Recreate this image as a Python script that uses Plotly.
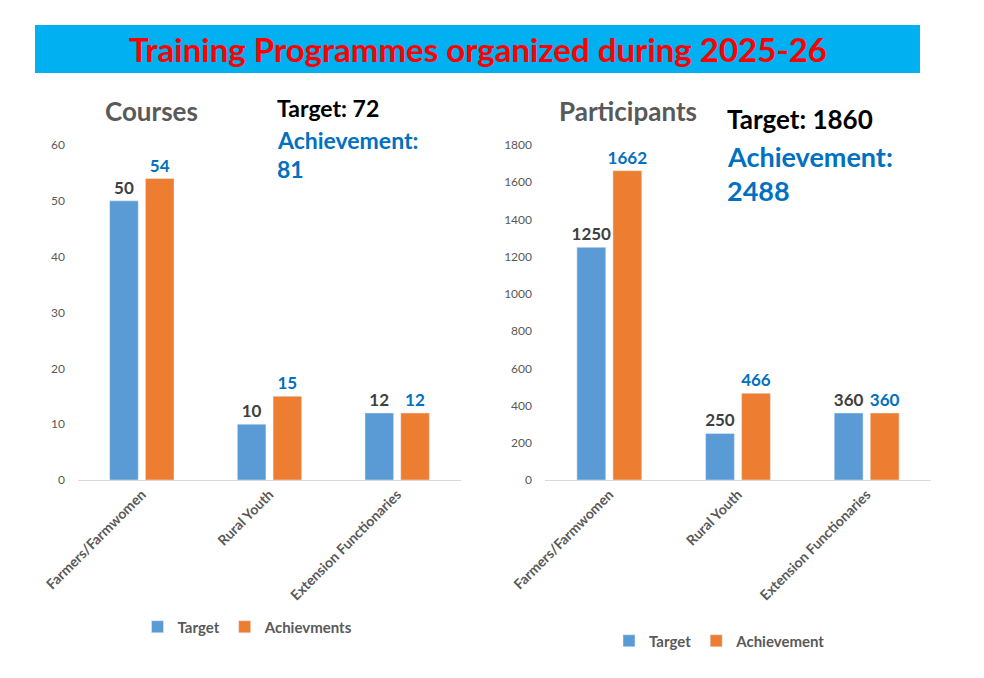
import plotly.graph_objects as go

categories = ['Farmers/Farmwomen', 'Rural Youth', 'Extension Functionaries']
courses_target = [50, 10, 12]
courses_achieved = [54, 15, 12]
participants_target = [1250, 250, 360]
participants_achieved = [1662, 466, 360]

BLUE = '#5B9BD5'
ORANGE = '#ED7D31'
LABEL_BLUE = '#0070C0'
GREY = '#595959'
FONT = 'Lato'

W, H = 984, 678
# the page body has an 8px margin, so the figure starts 8px in
OFF = 8
def px_x(v): return (v - OFF) / W
def px_y(v): return 1 - (v - OFF) / H

fig = go.Figure()

def bars(y, name, color, label_color, xa, ya, leg):
    return go.Bar(x=categories, y=y, name=name, marker_color=color,
                  text=y, textposition='outside', cliponaxis=False, constraintext='none',
                  textfont=dict(size=17, color=label_color, family=FONT, weight='bold'),
                  xaxis=xa, yaxis=ya, legend=leg)

# left chart: courses
fig.add_trace(bars(courses_target, 'Target', BLUE, '#404040', 'x', 'y', 'legend'))
fig.add_trace(bars(courses_achieved, 'Achievments', ORANGE, LABEL_BLUE, 'x', 'y', 'legend'))
# right chart: participants
fig.add_trace(bars(participants_target, 'Target', BLUE, '#404040', 'x2', 'y2', 'legend2'))
fig.add_trace(bars(participants_achieved, 'Achievement', ORANGE, LABEL_BLUE, 'x2', 'y2', 'legend2'))

xcommon = dict(tickangle=-45, showgrid=False, showline=True, linecolor='#D9D9D9', linewidth=1,
               ticks='', automargin=False,
               tickfont=dict(size=14, color=GREY, family=FONT, weight='bold'))
ycommon = dict(showgrid=False, zeroline=False, showline=False, ticks='', automargin=False,
               ticklabelstandoff=12,
               tickfont=dict(size=12, color=GREY, family=FONT))

legend_font = dict(size=15, color=GREY, family=FONT, weight='bold')

fig.update_layout(
    width=W, height=H,
    margin=dict(l=0, r=0, t=0, b=0, autoexpand=False),
    paper_bgcolor='white', plot_bgcolor='white',
    barmode='group', bargap=0.44, bargroupgap=0.2,
    font=dict(family=FONT),
    xaxis=dict(domain=[px_x(78), px_x(461)], anchor='y', **xcommon),
    yaxis=dict(domain=[px_y(480), px_y(145)], range=[0, 60], dtick=10, anchor='x', **ycommon),
    xaxis2=dict(domain=[px_x(545), px_x(931)], anchor='y2', **xcommon),
    yaxis2=dict(domain=[px_y(480), px_y(145)], range=[0, 1800], dtick=200, anchor='x2', **ycommon),
    legend=dict(orientation='h', x=px_x(248), y=px_y(627), xanchor='center', yanchor='middle',
                font=legend_font, itemwidth=30, traceorder='normal'),
    legend2=dict(orientation='h', x=px_x(720), y=px_y(641), xanchor='center', yanchor='middle',
                 font=legend_font, itemwidth=30, traceorder='normal'),
    shapes=[dict(type='rect', xref='paper', yref='paper',
                 x0=px_x(35), x1=px_x(920), y0=px_y(73), y1=px_y(25),
                 fillcolor='#00B0F0', line=dict(width=0), layer='below')],
)

annotations = [
    dict(text='Training Programmes organized during 2025-26', x=px_x(478), y=px_y(49),
         font=dict(size=33, color='#FF0000', family=FONT, weight='bold'), xanchor='center'),
    dict(text='Courses', x=px_x(151), y=px_y(111),
         font=dict(size=26, color=GREY, family=FONT, weight='bold'), xanchor='center'),
    dict(text='Target: %d' % sum(courses_target), x=px_x(275), y=px_y(108),
         font=dict(size=23, color='black', family=FONT, weight='bold'), xanchor='left'),
    dict(text='Achievement:', x=px_x(275), y=px_y(140),
         font=dict(size=23, color=LABEL_BLUE, family=FONT, weight='bold'), xanchor='left'),
    dict(text='%d' % sum(courses_achieved), x=px_x(275), y=px_y(169),
         font=dict(size=23, color=LABEL_BLUE, family=FONT, weight='bold'), xanchor='left'),
    dict(text='Participants', x=px_x(628), y=px_y(111),
         font=dict(size=26, color=GREY, family=FONT, weight='bold'), xanchor='center'),
    dict(text='Target: %d' % sum(participants_target), x=px_x(725), y=px_y(119),
         font=dict(size=26, color='black', family=FONT, weight='bold'), xanchor='left'),
    dict(text='Achievement:', x=px_x(725), y=px_y(157),
         font=dict(size=27, color=LABEL_BLUE, family=FONT, weight='bold'), xanchor='left'),
    dict(text='%d' % sum(participants_achieved), x=px_x(725), y=px_y(190),
         font=dict(size=27, color=LABEL_BLUE, family=FONT, weight='bold'), xanchor='left'),
]
for a in annotations:
    a.update(xref='paper', yref='paper', showarrow=False, yanchor='middle')
fig.update_layout(annotations=annotations)

fig.write_html("out.html")
